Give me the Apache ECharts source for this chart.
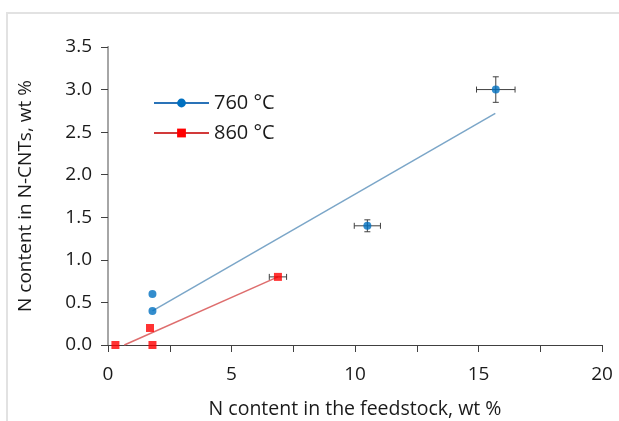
<!DOCTYPE html>
<html>
<head>
<meta charset="utf-8">
<script src="https://cdn.jsdelivr.net/npm/echarts@6/dist/echarts.min.js"></script>
<style>
html,body{margin:0;padding:0;background:#fff;}
#chart{width:619px;height:421px;}
</style>
</head>
<body>
<div id="chart"></div>
<script>
// measured points: [x, y, xErr, yErr]
var pts760=[[1.8,0.6,0,0],[1.8,0.4,0,0],[10.5,1.4,0.53,0.07],[15.7,3.0,0.78,0.15]];
var pts860=[[0.3,0,0,0],[1.7,0.2,0,0],[1.8,0,0,0],[6.88,0.8,0.35,0]];
// linear trend lines (end points)
var trend760=[[1.8,0.4],[15.68,2.72]];
var trend860=[[0.66,0],[6.88,0.8]];
var names=['760 °C','860 °C'];
var xTicks=[0,5,10,15,20];
var yTicks=[0,0.5,1,1.5,2,2.5,3,3.5];

var blue='#0070c0', red='#ff0000';
var font='"Open Sans", sans-serif';

function errBars(item,api){
	var x=api.value(0),y=api.value(1),ex=api.value(2),ey=api.value(3);
	var kids=[],st={stroke:'#404040',lineWidth:1};
	if(ex>0){
		var a=api.coord([x-ex,y]),b=api.coord([x+ex,y]);
		kids.push({type:'line',shape:{x1:a[0],y1:a[1],x2:b[0],y2:b[1]},style:st});
		kids.push({type:'line',shape:{x1:a[0],y1:a[1]-3,x2:a[0],y2:a[1]+3},style:st});
		kids.push({type:'line',shape:{x1:b[0],y1:b[1]-3,x2:b[0],y2:b[1]+3},style:st});
	}
	if(ey>0){
		var p=api.coord([x,y-ey]),q=api.coord([x,y+ey]);
		kids.push({type:'line',shape:{x1:p[0],y1:p[1],x2:q[0],y2:q[1]},style:st});
		kids.push({type:'line',shape:{x1:p[0]-3,y1:p[1],x2:p[0]+3,y2:p[1]},style:st});
		kids.push({type:'line',shape:{x1:q[0]-3,y1:q[1],x2:q[0]+3,y2:q[1]},style:st});
	}
	return {type:'group',children:kids};
}

var chart=echarts.init(document.getElementById('chart'));
var option={
	animation:false,
	textStyle:{fontFamily:font},
	grid:{left:108,right:17,top:47,bottom:76,outerBoundsMode:'none',containLabel:false},
	graphic:[{type:'polyline',shape:{points:[[7,421],[7,13],[619,13]]},style:{stroke:'#e2e2e2',lineWidth:2,fill:null},silent:true}],
	legend:{
		orient:'vertical',left:148,top:88,itemGap:10,itemWidth:55,itemHeight:11,
		textStyle:{fontSize:20,color:'#1a1a1a',fontFamily:font},
		data:[
			{name:names[0],lineStyle:{color:'#2a73b8',width:2}},
			{name:names[1],lineStyle:{color:'#d23a3a',width:2}}
		]
	},
	xAxis:[{
		type:'value',min:0,max:20,interval:2.5,
		name:'N content in the feedstock, wt %',nameLocation:'middle',nameGap:54,
		nameTextStyle:{fontSize:19.5,color:'#1a1a1a'},
		axisLine:{onZero:false,lineStyle:{color:'#404040',width:1}},
		axisTick:{show:true,inside:false,length:7,lineStyle:{color:'#404040'}},
		axisLabel:{fontSize:19,color:'#1a1a1a',margin:20,formatter:function(v){return xTicks.indexOf(v)>=0?String(v):'';}},
		splitLine:{show:false}
	},{
		type:'value',position:'top',min:0,max:20,
		axisLine:{show:true,lineStyle:{color:'#404040',width:1}},
		axisTick:{show:false},axisLabel:{show:false},splitLine:{show:false}
	}],
	yAxis:[{
		type:'value',min:0,max:3.5,interval:0.5,
		name:'N content in N-CNTs, wt %',nameLocation:'middle',nameGap:73,
		nameTextStyle:{fontSize:19,color:'#1a1a1a'},
		axisLine:{show:true,onZero:false,lineStyle:{color:'#404040',width:1}},
		axisTick:{show:true,inside:false,length:7,lineStyle:{color:'#404040'}},
		axisLabel:{fontSize:19,color:'#1a1a1a',margin:16,formatter:function(v){return yTicks.indexOf(v)>=0?v.toFixed(1):'';}},
		splitLine:{show:false}
	},{
		type:'value',position:'right',min:0,max:3.5,
		axisLine:{show:true,lineStyle:{color:'#a6a6a6',width:2}},
		axisTick:{show:false},axisLabel:{show:false},splitLine:{show:false}
	}],
	series:[
		{name:names[0],type:'line',data:trend760,showSymbol:false,symbol:'circle',symbolSize:9,
			itemStyle:{color:blue},lineStyle:{color:'#7ba6c8',width:1.5},z:2},
		{name:names[1],type:'line',data:trend860,showSymbol:false,symbol:'rect',symbolSize:10,
			itemStyle:{color:red},lineStyle:{color:'#de6e6e',width:1.5},z:2},
		{type:'custom',renderItem:errBars,data:pts760,z:3,silent:true},
		{type:'custom',renderItem:errBars,data:pts860,z:3,silent:true},
		{type:'scatter',data:pts760,symbol:'circle',symbolSize:8,itemStyle:{color:blue},z:4},
		{type:'scatter',data:pts860,symbol:'rect',symbolSize:8,itemStyle:{color:red},z:4}
	]
};
chart.setOption(option);
</script>
</body>
</html>
